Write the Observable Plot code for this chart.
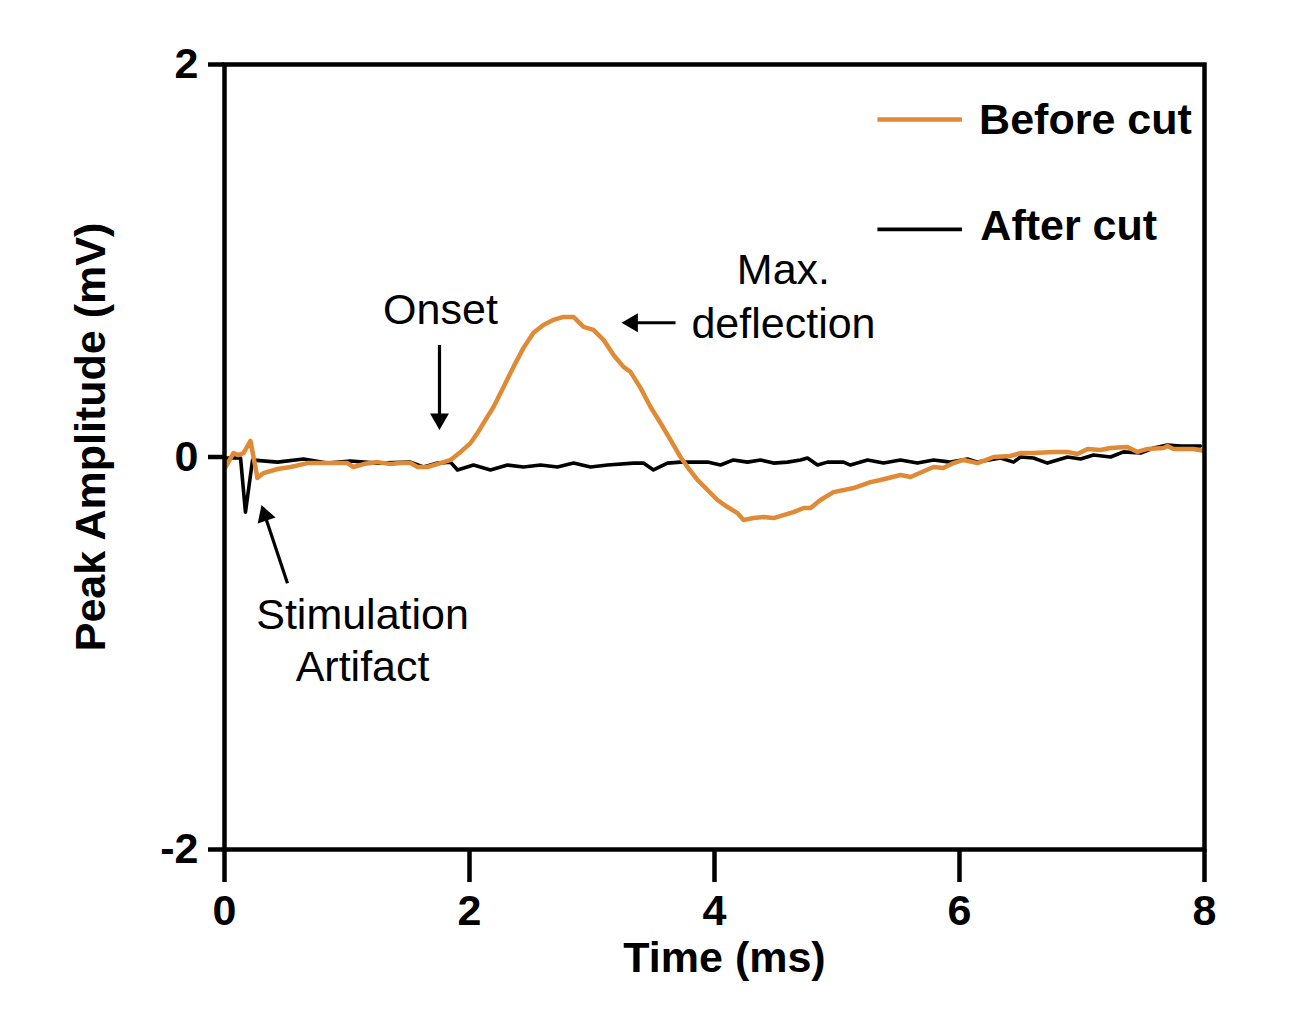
<!DOCTYPE html>
<html><head><meta charset="utf-8">
<script src="https://cdn.jsdelivr.net/npm/d3@7"></script>
<script src="https://cdn.jsdelivr.net/npm/@observablehq/plot@0.6"></script>
<style>
html,body{margin:0;padding:0;background:#fff;overflow:hidden}
#chart svg text{font-family:"Liberation Sans",Arial,sans-serif}
#chart svg g[aria-label="y-axis tick label"] text,
#chart svg g[aria-label="x-axis tick label"] text{font-weight:bold}
</style>
</head><body><div id="chart"></div>
<script>
// ---- data (time in ms, amplitude in mV) ----
const beforeTime = [0.01,0.073,0.114,0.155,0.212,0.269,0.318,0.433,0.539,0.678,
  0.784,0.890,1.004,1.053,1.135,1.249,1.355,1.437,1.518,1.576,
  1.657,1.763,1.845,1.927,2.008,2.065,2.114,2.196,2.278,2.359,
  2.441,2.522,2.604,2.686,2.767,2.849,2.931,3.012,3.094,3.176,
  3.257,3.314,3.396,3.478,3.559,3.641,3.722,3.780,3.861,3.943,
  4.024,4.106,4.188,4.237,4.318,4.400,4.482,4.563,4.645,4.727,
  4.784,4.865,4.971,5.135,5.273,5.355,5.518,5.600,5.788,5.869,
  5.951,6.033,6.147,6.278,6.416,6.498,6.604,6.767,6.882,6.963,
  7.045,7.151,7.233,7.371,7.453,7.535,7.665,7.698,7.747,7.910,7.992];
const beforeAmp = [-0.051,0.020,0.010,0.020,0.082,-0.107,-0.082,-0.061,-0.051,-0.031,
  -0.031,-0.031,-0.031,-0.051,-0.036,-0.026,-0.036,-0.031,-0.031,-0.051,
  -0.051,-0.031,-0.015,0.026,0.071,0.122,0.173,0.255,0.357,0.459,
  0.556,0.633,0.673,0.699,0.714,0.714,0.663,0.648,0.597,0.520,
  0.459,0.434,0.352,0.255,0.173,0.087,0.000,-0.051,-0.117,-0.168,
  -0.219,-0.255,-0.286,-0.321,-0.311,-0.306,-0.311,-0.296,-0.281,-0.260,
  -0.260,-0.219,-0.179,-0.158,-0.128,-0.117,-0.092,-0.102,-0.051,-0.056,
  -0.031,-0.015,-0.031,0.000,0.005,0.020,0.020,0.026,0.026,0.015,
  0.041,0.036,0.046,0.051,0.026,0.041,0.046,0.056,0.041,0.041,0.031];
const afterTime = [0.01,0.131,0.171,0.229,0.433,0.645,0.841,1.029,1.249,1.518,
  1.624,1.739,1.845,1.902,2.033,2.171,2.310,2.441,2.580,2.718,
  2.849,2.988,3.127,3.339,3.420,3.502,3.616,3.722,3.943,4.049,
  4.155,4.269,4.376,4.482,4.596,4.702,4.759,4.841,4.922,5.053,
  5.110,5.249,5.380,5.518,5.657,5.788,5.927,6.065,6.147,6.335,
  6.441,6.498,6.604,6.718,6.882,6.988,7.094,7.233,7.339,7.478,
  7.584,7.698,7.804,7.967];
const afterAmp = [-0.005,-0.005,-0.281,-0.015,-0.026,-0.010,-0.031,-0.020,-0.031,-0.026,
  -0.051,-0.031,-0.026,-0.066,-0.041,-0.066,-0.041,-0.051,-0.041,-0.051,
  -0.031,-0.051,-0.041,-0.031,-0.031,-0.066,-0.031,-0.026,-0.026,-0.041,
  -0.015,-0.026,-0.015,-0.031,-0.026,-0.015,-0.005,-0.041,-0.026,-0.026,
  -0.041,-0.015,-0.031,-0.015,-0.031,-0.015,-0.026,-0.010,-0.026,-0.005,
  -0.026,0.000,-0.005,-0.031,0.000,-0.010,0.010,0.000,0.026,0.020,
  0.046,0.061,0.056,0.056];
const seriesNames = ["Before cut", "After cut"];
const xTicks = [0, 2, 4, 6, 8];
const yTicks = [-2, 0, 2];
const xLabel = "Time (ms)";
const yLabel = "Peak Amplitude (mV)";
// annotation text anchors (data units)
const noteText = ["Onset", "Max.", "deflection", "Stimulation", "Artifact"];
const noteX = [1.763, 4.563, 4.563, 1.127, 1.127];
const noteY = [0.75, 0.954, 0.679, -0.806, -1.071];
// annotation arrows (data units): from tail to tip
const arrowX1 = [1.755, 3.682, 0.514];
const arrowY1 = [0.571, 0.684, -0.643];
const arrowX2 = [1.755, 3.216, 0.294];
const arrowY2 = [0.122, 0.684, -0.230];

// ---- layout ----
const W = 1305, H = 1029, ML = 224, MR = 101, MT = 64, MB = 180;
const FONT = '"Liberation Sans", Arial, sans-serif';
const ORANGE = "#e08a36";
const FS = 43;
const kx = (W - ML - MR) / 8, ky = (H - MT - MB) / 4;

const before = beforeTime.map((t, i) => ({t, v: beforeAmp[i]}));
const after = afterTime.map((t, i) => ({t, v: afterAmp[i]}));
const notes = noteText.map((s, i) => ({s, x: noteX[i], y: noteY[i]}));

// arrowheads: filled triangles, rotated along each arrow
const headR = 9;
const headSize = headR * headR * Math.PI;
const headOff = 2 * Math.sqrt(headSize / (Math.sqrt(3) * 3)); // tip distance from centre
const arrows = arrowX1.map((x1, i) => {
  const sx = (arrowX2[i] - x1) * kx, sy = -(arrowY2[i] - arrowY1[i]) * ky;
  const L = Math.hypot(sx, sy), ux = sx / L, uy = sy / L;
  return {
    x1, y1: arrowY1[i],
    x2: arrowX2[i] - headOff * ux / kx,
    y2: arrowY2[i] + headOff * uy / ky,
    angle: Math.atan2(ux, -uy) * 180 / Math.PI
  };
});

const marks = [
  Plot.line(after, {x: "t", y: "v", stroke: "#000", strokeWidth: 3.6, strokeLinejoin: "round"}),
  Plot.line(before, {x: "t", y: "v", stroke: ORANGE, strokeWidth: 4.5, strokeLinejoin: "round"}),
  Plot.link(arrows, {x1: "x1", y1: "y1", x2: "x2", y2: "y2", stroke: "#000", strokeWidth: 3.2}),
  ...arrows.map(a => Plot.dot([a], {x: "x2", y: "y2", symbol: "triangle2", r: headR, fill: "#000", stroke: "none", rotate: a.angle})),
  Plot.text(notes, {x: "x", y: "y", text: "s", fontSize: FS, fontFamily: FONT, fill: "#000", textAnchor: "middle", lineAnchor: "middle"}),
  // legend
  Plot.link([seriesNames[0]], {x1: 5.33, x2: 6.02, y1: 1.72, y2: 1.72, stroke: ORANGE, strokeWidth: 4.5}),
  Plot.link([seriesNames[1]], {x1: 5.33, x2: 6.02, y1: 1.16, y2: 1.16, stroke: "#000", strokeWidth: 3.6}),
  Plot.text([seriesNames[0]], {x: 6.16, y: 1.715, text: d => d, fontSize: FS, fontWeight: "bold", fontFamily: FONT, textAnchor: "start", lineAnchor: "middle"}),
  Plot.text([seriesNames[1]], {x: 6.17, y: 1.174, text: d => d, fontSize: FS, fontWeight: "bold", fontFamily: FONT, textAnchor: "start", lineAnchor: "middle"}),
  Plot.frame({stroke: "#000", strokeWidth: 4.5}),
  Plot.axisX({ticks: xTicks, tickSize: 33, tickPadding: 12, strokeWidth: 4.5, fontSize: FS, fontWeight: "bold", tickFormat: d => String(d), label: null}),
  Plot.axisY({ticks: yTicks, tickSize: 16, tickPadding: 10, strokeWidth: 4.5, fontSize: FS, fontWeight: "bold", tickFormat: d => String(d), label: null}),
  Plot.text([xLabel], {frameAnchor: "bottom", dx: 10, dy: 109, text: d => d, fontSize: FS, fontWeight: "bold", fontFamily: FONT, textAnchor: "middle", lineAnchor: "middle"}),
  Plot.text([yLabel], {frameAnchor: "left", dx: -133, dy: -20, rotate: -90, text: d => d, fontSize: FS, fontWeight: "bold", fontFamily: FONT, textAnchor: "middle", lineAnchor: "middle"})
];

const chart = Plot.plot({
  width: W, height: H,
  marginLeft: ML, marginRight: MR, marginTop: MT, marginBottom: MB,
  style: {fontFamily: FONT, background: "#fff", color: "#000", overflow: "visible"},
  x: {domain: [0, 8]},
  y: {domain: [-2, 2]},
  marks
});
document.getElementById("chart").append(chart);
</script>
</body></html>
